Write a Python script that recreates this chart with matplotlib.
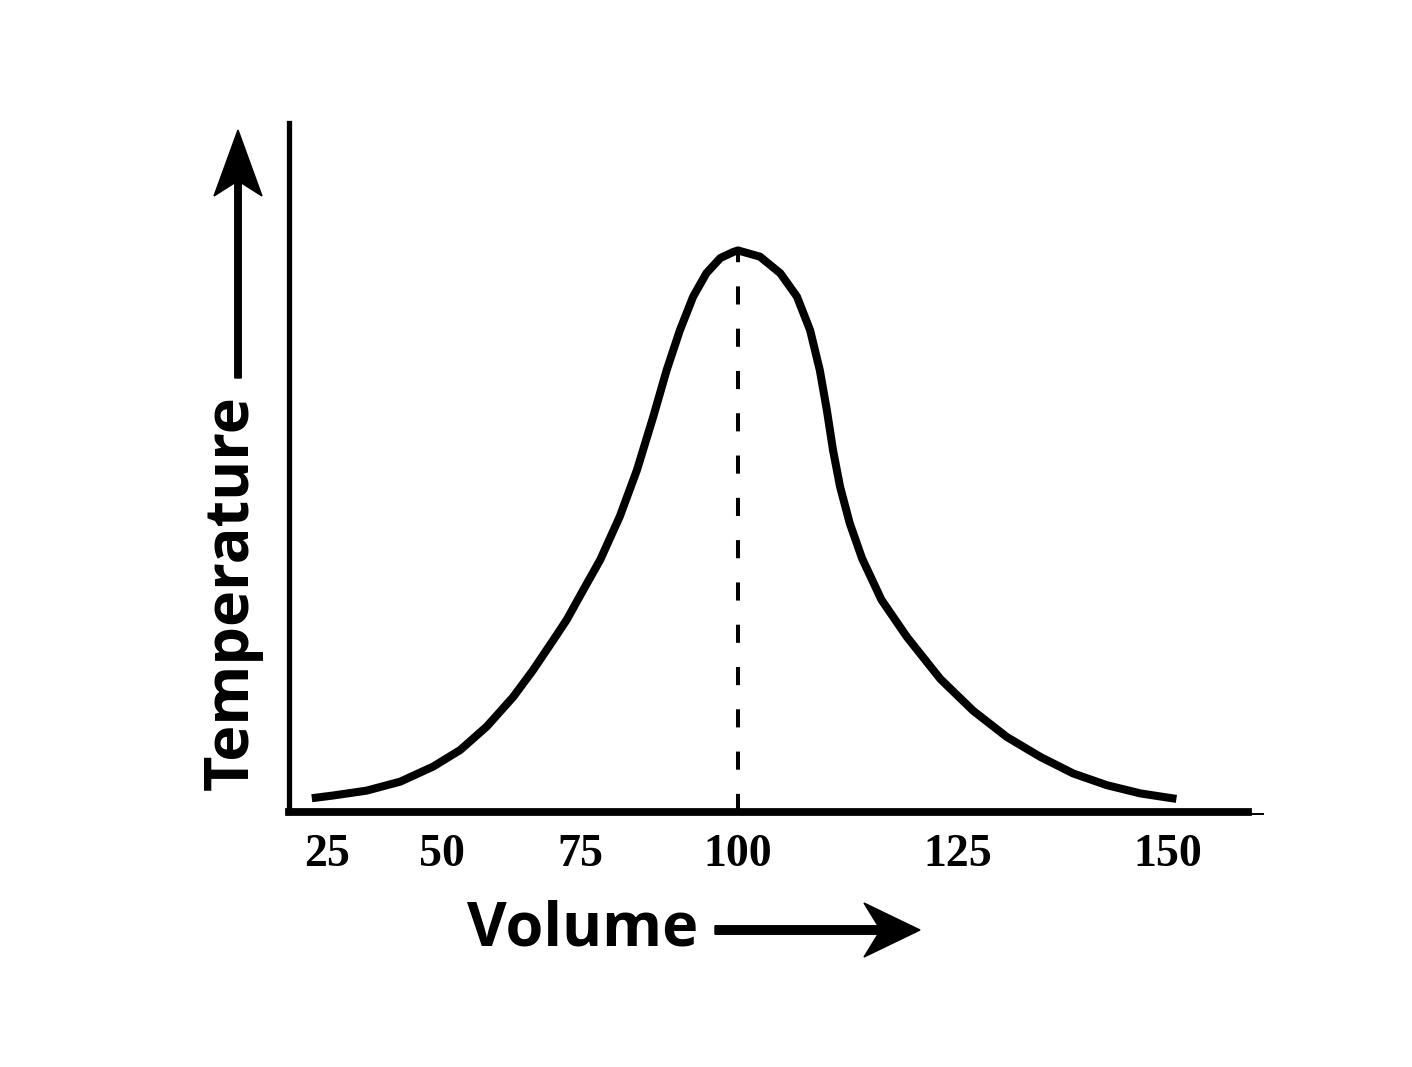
import numpy as np
import matplotlib
matplotlib.use("Agg")
import matplotlib.pyplot as plt
from matplotlib.patches import FancyArrow

# ---- data ----
tick_values = [25, 50, 75, 100, 125, 150]
tick_labels = ["25", "50", "75", "100", "125", "150"]

volume = [21.7, 26.4, 33.6, 40.9, 48.1, 53.3, 58.1, 62.9, 66.5, 70.2, 72.6,
          75.5, 78.2, 81.3, 84.0, 86.6, 88.7, 90.8, 92.9, 95.0, 97.2, 99.3,
          100.0,
          102.5, 104.8, 106.7, 108.2, 109.3, 110.1, 110.8, 111.6, 112.7,
          114.1, 116.3, 119.2, 123.0, 126.8, 130.8, 134.8, 138.7, 142.7,
          146.7, 151.0]
temperature = [2.0, 2.4, 3.1, 4.4, 6.6, 9.0, 12.4, 16.7, 20.6, 25.0, 27.9,
               32.2, 36.6, 42.9, 49.6, 57.4, 64.1, 69.9, 74.8, 78.2, 80.4, 81.3,
               81.5,
               80.6, 78.2, 74.8, 69.9, 64.1, 58.3, 52.5, 47.2, 41.9,
               36.8, 30.8, 25.4, 19.3, 14.7, 10.9, 8.0, 5.6, 3.9,
               2.7, 1.9]
peak_volume = 100
peak_temperature = 81.5

# non-uniform horizontal spacing of the printed axis (volume -> position)
scale_vol = [0, 25, 50, 75, 100, 125, 150, 200]
scale_pos = [212, 327, 442, 580, 738, 958, 1168, 1588]


def fwd(v):
    return np.interp(v, scale_vol, scale_pos)


def inv(p):
    return np.interp(p, scale_pos, scale_vol)


W, H = 1412, 1067
fig = plt.figure(figsize=(W / 100, H / 100), dpi=100)
ax = fig.add_axes([289 / W, (H - 812) / H, (1248 - 289) / W, (812 - 123) / H])

ax.set_xscale("function", functions=(fwd, inv))
ax.set_xlim(inv(289), inv(1248))
ax.set_ylim(0, 100)

ax.plot(volume, temperature, color="black", lw=5.8,
        solid_joinstyle="round", solid_capstyle="butt", antialiased=True)
ax.vlines(peak_volume, 0, peak_temperature, colors="black", lw=2.9,
          linestyles=(0, (4.5, 6.0)))

for s in ["top", "right"]:
    ax.spines[s].set_visible(False)
ax.spines["left"].set_linewidth(3.8)
ax.spines["bottom"].set_linewidth(5.6)
ax.plot([1.0, 1.016], [-0.003, -0.003], transform=ax.transAxes,
        color="black", lw=1.4, clip_on=False)

ax.set_yticks([])
ax.set_xticks(tick_values)
ax.set_xticklabels(tick_labels)
ax.xaxis.set_minor_locator(matplotlib.ticker.NullLocator())
ax.tick_params(axis="x", length=0, pad=16)
for lab in ax.get_xticklabels():
    lab.set_fontfamily(["Liberation Serif", "DejaVu Serif"])
    lab.set_fontweight("bold")
    lab.set_fontsize(33)

# axis titles with arrows
fig.text(583 / W, (H - 930) / H, "Volume", family=["Open Sans", "DejaVu Sans"],
         fontweight="bold", fontsize=44, ha="center", va="center")
fig.text(232 / W, (H - 593) / H, "Temperature", family=["Open Sans", "DejaVu Sans"],
         fontweight="bold", fontsize=44, ha="center", va="center", rotation=90)

# horizontal arrow (inches in figure)
fig.add_artist(FancyArrow(7.15, (H - 930) / 100, 2.05, 0, width=0.085,
                          head_width=0.54, head_length=0.56, overhang=0.25,
                          length_includes_head=True, color="black",
                          transform=fig.dpi_scale_trans))
# vertical arrow
fig.add_artist(FancyArrow(2.38, (H - 378) / 100, 0, 2.48, width=0.065,
                          head_width=0.48, head_length=0.66, overhang=0.2,
                          length_includes_head=True, color="black",
                          transform=fig.dpi_scale_trans))

fig.savefig("out.png", dpi=100, facecolor="white")
